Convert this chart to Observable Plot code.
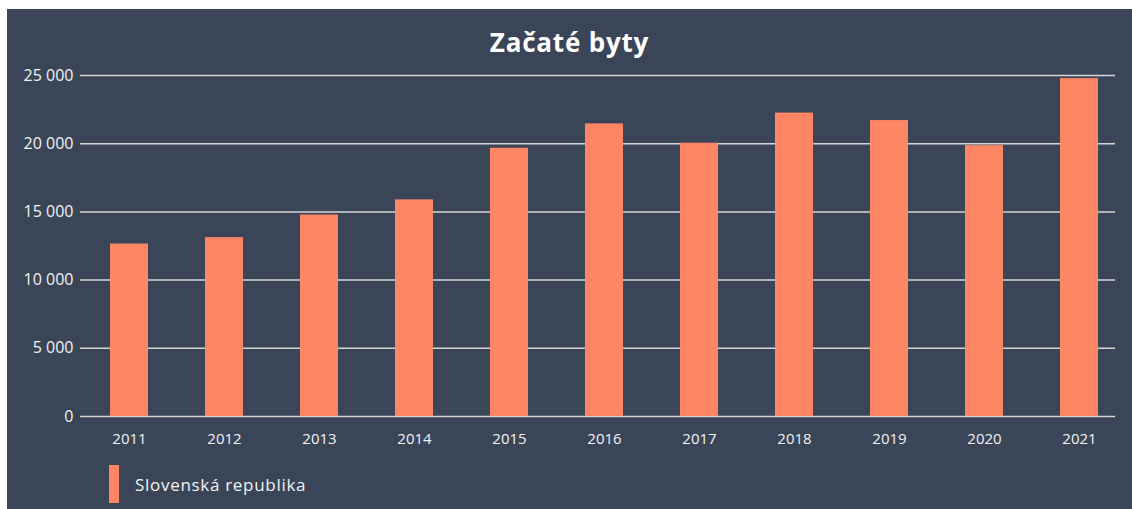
<!DOCTYPE html>
<html>
<head>
<meta charset="utf-8">
<script src="https://cdn.jsdelivr.net/npm/d3@7"></script>
<script src="https://cdn.jsdelivr.net/npm/@observablehq/plot@0.6"></script>
<style>
  html, body { margin: 0; padding: 0; background: #ffffff; width: 1132px; height: 509px; overflow: hidden; }
  #panel { position: absolute; left: 7px; top: 9px; width: 1125px; height: 500px; background: #3a4558; font-family: "Open Sans", sans-serif; color: #f2f2f2; }
  #title { position: absolute; left: 0; width: 1125px; top: 15px; text-align: center; font-size: 26px; font-weight: 700; color: #ffffff; letter-spacing: 0.8px; }
  #chart { position: absolute; left: 0; top: 51px; }
  #legend { position: absolute; left: 102px; top: 456px; height: 38px; display: flex; align-items: center; }
  #legend .sw { width: 10px; height: 38px; background: #ff8664; margin-right: 16px; }
  #legend .lb { font-size: 17px; color: #f2f2f2; letter-spacing: 0.7px; }
</style>
</head>
<body>
<div id="panel">
  <div id="title">Začaté byty</div>
  <div id="chart"></div>
  <div id="legend"><div class="sw"></div><div class="lb">Slovenská republika</div></div>
</div>
<script>
const years = ["2011","2012","2013","2014","2015","2016","2017","2018","2019","2020","2021"];
const started = [12645, 13112, 14767, 15881, 19664, 21452, 20035, 22245, 21696, 19857, 24775];
const yTicks = [0, 5000, 10000, 15000, 20000, 25000];
const seriesName = "Slovenská republika";

const data = years.map((y, i) => ({year: y, value: started[i], series: seriesName}));
const fmt = d3.formatLocale({decimal: ",", thousands: "\u00a0", grouping: [3], currency: ["", " €"]}).format(",d");

const chart = Plot.plot({
  width: 1125,
  height: 400,
  marginTop: 15,
  marginBottom: 44,
  marginLeft: 73,
  marginRight: 17,
  style: {background: "transparent", color: "#f2f2f2", fontFamily: "Open Sans, sans-serif", fontSize: "15px"},
  x: {domain: years, paddingInner: 0.6, paddingOuter: 0.23, align: 0.64, label: null},
  y: {domain: [0, 25000], ticks: yTicks, label: null},
  marks: [
    Plot.gridY(yTicks, {stroke: "#d6d6d6", strokeOpacity: 1, strokeWidth: 1.5}),
    Plot.barY(data, {x: "year", y: "value", fill: "#ff8664"}),
    Plot.axisY(yTicks, {tickSize: 0, tickPadding: 7, tickFormat: fmt, fill: "#f2f2f2", fontSize: 16, style: {letterSpacing: "0.6px"}}),
    Plot.axisX({tickSize: 0, tickPadding: 17, fill: "#f2f2f2", fontSize: 15})
  ]
});
document.getElementById("chart").appendChild(chart);
</script>
</body>
</html>
